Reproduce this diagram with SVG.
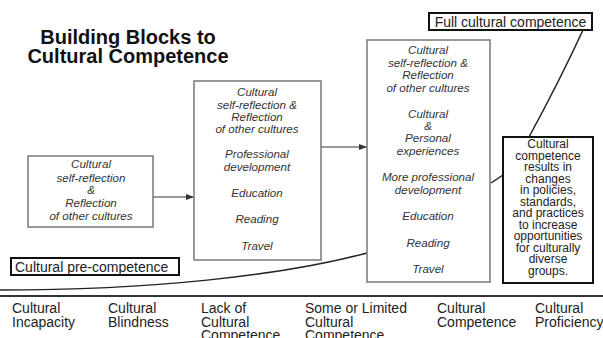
<svg xmlns="http://www.w3.org/2000/svg" width="603" height="338" viewBox="0 0 603 338">
  <defs>
    <marker id="arrow" viewBox="0 0 8 6" refX="8" refY="3" markerWidth="8" markerHeight="6" markerUnits="userSpaceOnUse" orient="auto">
      <path d="M0,0 L8,3 L0,6 z" fill="#333"/>
    </marker>
    <style>
      .title { font-family: "Liberation Sans", Arial, sans-serif; font-weight: bold; font-size: 20px; fill: #111; text-anchor: middle; }
      .block { fill: #fff; stroke: #777; stroke-width: 1.5; }
      .heavy { fill: #fff; stroke: #111; stroke-width: 2; }
      .it { font-family: "Liberation Sans", Arial, sans-serif; font-style: italic; font-size: 11.6px; fill: #333; text-anchor: middle; }
      .note { font-family: "Liberation Sans", Arial, sans-serif; font-size: 12px; fill: #222; text-anchor: middle; }
      .tag { font-family: "Liberation Sans", Arial, sans-serif; font-size: 14px; fill: #222; }
      .scale { font-family: "Liberation Sans", Arial, sans-serif; font-size: 14px; fill: #222; }
      .conn { fill: none; stroke: #333; stroke-width: 1.2; }
      .curve { fill: none; stroke: #222; stroke-width: 1.5; }
    </style>
  </defs>
  <rect width="603" height="338" fill="#fff"/>

  <g id="title">
    <text class="title" x="128" y="44">Building Blocks to</text>
    <text class="title" x="128" y="63">Cultural Competence</text>
  </g>

  <g id="connectors">
    <line class="conn" x1="153" y1="197" x2="194" y2="197" marker-end="url(#arrow)"/>
    <line class="conn" x1="321" y1="147" x2="367" y2="147" marker-end="url(#arrow)"/>
    <line class="curve" x1="503" y1="175" x2="491" y2="183"/>
    <path class="curve" d="M583,30 Q560,80 529,137"/>
    <path class="curve" d="M0,290 C150,290 280,276 367,253"/>
  </g>

  <g id="block1">
    <rect class="block" x="28" y="156" width="125" height="71"/>
    <text class="it" x="91" y="168">Cultural</text>
    <text class="it" x="91" y="181.5">self-reflection</text>
    <text class="it" x="91" y="194">&amp;</text>
    <text class="it" x="91" y="207">Reflection</text>
    <text class="it" x="91" y="220">of other cultures</text>
  </g>

  <g id="block2">
    <rect class="block" x="194" y="81" width="127" height="179"/>
    <text class="it" x="257" y="96">Cultural</text>
    <text class="it" x="257" y="108.5">self-reflection &amp;</text>
    <text class="it" x="257" y="120.5">Reflection</text>
    <text class="it" x="257" y="132.5">of other cultures</text>
    <text class="it" x="257" y="158">Professional</text>
    <text class="it" x="257" y="171">development</text>
    <text class="it" x="257" y="197">Education</text>
    <text class="it" x="257" y="223">Reading</text>
    <text class="it" x="257" y="250">Travel</text>
  </g>

  <g id="block3">
    <rect class="block" x="367" y="40" width="123" height="242"/>
    <text class="it" x="428" y="54">Cultural</text>
    <text class="it" x="428" y="66.5">self-reflection &amp;</text>
    <text class="it" x="428" y="79">Reflection</text>
    <text class="it" x="428" y="91.5">of other cultures</text>
    <text class="it" x="428" y="118">Cultural</text>
    <text class="it" x="428" y="130">&amp;</text>
    <text class="it" x="428" y="142">Personal</text>
    <text class="it" x="428" y="154.5">experiences</text>
    <text class="it" x="428" y="181">More professional</text>
    <text class="it" x="428" y="193.5">development</text>
    <text class="it" x="428" y="220">Education</text>
    <text class="it" x="428" y="247">Reading</text>
    <text class="it" x="428" y="273">Travel</text>
  </g>

  <g id="full-competence">
    <rect class="heavy" x="429" y="13" width="163" height="17"/>
    <text class="tag" x="510.5" y="26.5" text-anchor="middle">Full cultural competence</text>
  </g>

  <g id="outcome">
    <rect class="heavy" x="503" y="137" width="90" height="146"/>
    <text class="note" x="548" y="148">Cultural</text>
    <text class="note" x="548" y="159.5">competence</text>
    <text class="note" x="548" y="171">results in</text>
    <text class="note" x="548" y="182.5">changes</text>
    <text class="note" x="548" y="194">in policies,</text>
    <text class="note" x="548" y="205.5">standards,</text>
    <text class="note" x="548" y="217">and practices</text>
    <text class="note" x="548" y="228.5">to increase</text>
    <text class="note" x="548" y="240">opportunities</text>
    <text class="note" x="548" y="251.5">for culturally</text>
    <text class="note" x="548" y="263">diverse</text>
    <text class="note" x="548" y="274.5">groups.</text>
  </g>

  <g id="pre-competence">
    <rect class="heavy" x="11" y="258" width="168" height="17"/>
    <text class="tag" x="15" y="271.5">Cultural pre-competence</text>
  </g>

  <g id="continuum">
    <line x1="0" y1="296" x2="603" y2="296" stroke="#333" stroke-width="2"/>
    <text class="scale" x="12" y="313">Cultural</text>
    <text class="scale" x="12" y="326.5">Incapacity</text>
    <text class="scale" x="108" y="313">Cultural</text>
    <text class="scale" x="108" y="326.5">Blindness</text>
    <text class="scale" x="201" y="313">Lack of</text>
    <text class="scale" x="201" y="326.5">Cultural</text>
    <text class="scale" x="201" y="339.5">Competence</text>
    <text class="scale" x="305" y="313">Some or Limited</text>
    <text class="scale" x="305" y="326.5">Cultural</text>
    <text class="scale" x="305" y="339.5">Competence</text>
    <text class="scale" x="437" y="313">Cultural</text>
    <text class="scale" x="437" y="326.5">Competence</text>
    <text class="scale" x="535" y="313">Cultural</text>
    <text class="scale" x="535" y="326.5">Proficiency</text>
  </g>
</svg>
